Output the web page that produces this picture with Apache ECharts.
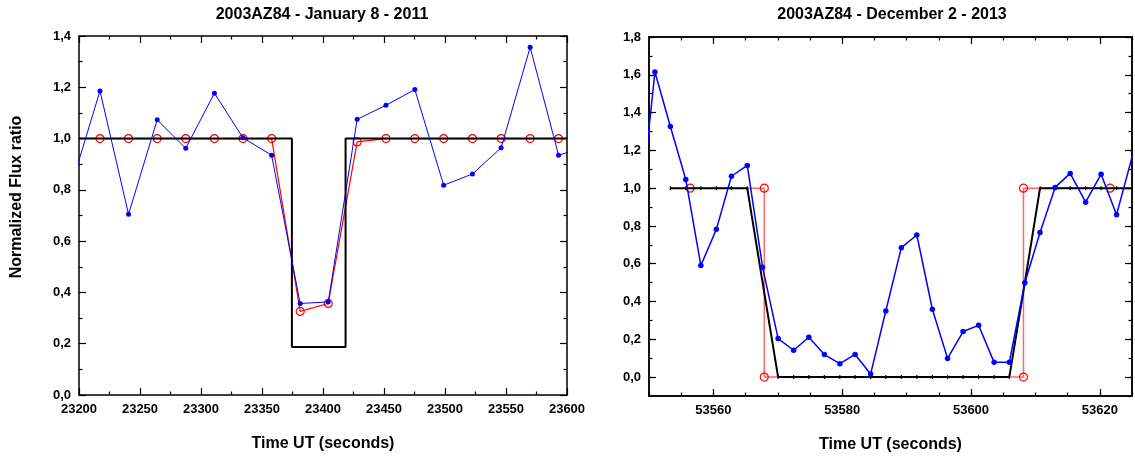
<!DOCTYPE html>
<html>
<head>
<meta charset="utf-8">
<script src="https://cdn.jsdelivr.net/npm/echarts@6/dist/echarts.min.js"></script>
<style>
html,body{margin:0;padding:0;background:#fff;}
#chart{width:1135px;height:461px;}
</style>
</head>
<body>
<div id="chart"></div>
<script>
// ---------- Left panel: 2003AZ84 - January 8 - 2011 ----------
const leftTitle = '2003AZ84 - January 8 - 2011';
const leftObsTimes = [23193.7, 23217.2, 23240.6, 23264.1, 23287.5, 23311.0, 23334.4, 23357.9, 23381.3, 23404.3, 23428.0, 23451.6, 23475.3, 23498.9, 23522.5, 23546.0, 23569.8, 23593.1, 23616.6];
const leftObsFlux  = [0.817, 1.186, 0.705, 1.073, 0.962, 1.177, 1.003, 0.935, 0.357, 0.363, 1.075, 1.130, 1.191, 0.818, 0.862, 0.964, 1.356, 0.935, 0.969];
const leftFitTimes = [23217.2, 23240.6, 23264.1, 23287.5, 23311.0, 23334.4, 23357.9, 23381.3, 23404.3, 23428.0, 23451.6, 23475.3, 23498.9, 23522.5, 23546.0, 23569.8, 23593.1];
const leftFitFlux  = [1, 1, 1, 1, 1, 1, 1, 0.326, 0.357, 0.987, 1, 1, 1, 1, 1, 1, 1];
const leftModelTimes = [23200, 23374.5, 23374.5, 23418.5, 23418.5, 23600];
const leftModelFlux  = [1, 1, 0.187, 0.187, 1, 1];
const leftXTicks = [23200, 23600, 50];
const leftYTicks = [0, 1.4, 0.2];

// ---------- Right panel: 2003AZ84 - December 2 - 2013 ----------
const rightTitle = '2003AZ84 - December 2 - 2013';
const rightObsTimes = [53548.5, 53550.92, 53553.32, 53555.71, 53558.05, 53560.46, 53562.8, 53565.26, 53567.64, 53570.05, 53572.46, 53574.82, 53577.23, 53579.64, 53582.0, 53584.41, 53586.77, 53589.18, 53591.59, 53594.0, 53596.36, 53598.77, 53601.18, 53603.59, 53605.95, 53608.36, 53610.72, 53613.06, 53615.4, 53617.8, 53620.2, 53622.6, 53625.1];
const rightObsFlux  = [0.83, 1.615, 1.326, 1.046, 0.591, 0.782, 1.063, 1.12, 0.581, 0.204, 0.142, 0.211, 0.119, 0.071, 0.120, 0.016, 0.350, 0.685, 0.752, 0.359, 0.099, 0.241, 0.274, 0.078, 0.078, 0.499, 0.765, 1.004, 1.078, 0.926, 1.074, 0.859, 1.176];
const rightModelTimes = [53553.32, 53555.71, 53558.05, 53560.46, 53562.8, 53565.26, 53567.64, 53570.05, 53572.46, 53574.82, 53577.23, 53579.64, 53582.0, 53584.41, 53586.77, 53589.18, 53591.59, 53594.0, 53596.36, 53598.77, 53601.18, 53603.59, 53605.95, 53608.36, 53610.72, 53613.06, 53615.4, 53617.8, 53620.2, 53622.6, 53625.1];
const rightModelFlux  = [1, 1, 1, 1, 1, 1, 0.5, 0, 0, 0, 0, 0, 0, 0, 0, 0, 0, 0, 0, 0, 0, 0, 0, 0.5, 1, 1, 1, 1, 1, 1, 1];
const rightFitTimes = [53556.4, 53567.9, 53567.9, 53608.15, 53608.15, 53621.6];
const rightFitFlux  = [1, 1, 0, 0, 1, 1];
const rightXRange = [53550, 53625, 5];
const rightXLabels = [53560, 53580, 53600, 53620];
const rightYRange = [-0.1, 1.8, 0.1];
const rightYLabels = [0, 0.2, 0.4, 0.6, 0.8, 1.0, 1.2, 1.4, 1.6, 1.8];

const xTitle = 'Time UT (seconds)';
const yTitle = 'Normalized Flux ratio';

function zip(a, b) { return a.map((v, i) => [v, b[i]]); }

const FONT = 'Liberation Sans, Arial, Helvetica, sans-serif';
const LABEL = { fontFamily: FONT, fontWeight: 'bold', fontSize: 13, color: '#000' };
const NAME = { fontFamily: FONT, fontWeight: 'bold', fontSize: 16, color: '#000' };
const LINE = { show: true, onZero: false, lineStyle: { color: '#000', width: 1.5 } };
const comma = v => (Math.abs(v) < 1e-9 ? 0 : v).toFixed(1).replace('.', ',');
const plain = v => String(Math.round(v));
const rightXFmt = v => (rightXLabels.indexOf(Math.round(v)) >= 0 ? String(Math.round(v)) : '');

function ax(grid, pos, min, max, opts) {
  return Object.assign({
    type: 'value', gridIndex: grid, position: pos, min: min, max: max,
    axisLine: LINE, splitLine: { show: false },
    axisTick: { show: true, inside: true, length: 7, lineStyle: { color: '#000', width: 1.2 } },
    axisLabel: { show: false }
  }, opts);
}
const minorLeft = { show: true, splitNumber: 2, length: 3.5, lineStyle: { color: '#000', width: 1.2 } };
const shortTick = { show: true, inside: true, length: 3.5, lineStyle: { color: '#000', width: 1.2 } };

const xAxes = [
  // left panel
  ax(0, 'bottom', leftXTicks[0], leftXTicks[1], {
    interval: leftXTicks[2], minorTick: minorLeft,
    axisLabel: Object.assign({ show: true, margin: 8, formatter: plain }, LABEL),
    name: xTitle, nameLocation: 'middle', nameGap: 41, nameTextStyle: NAME
  }),
  ax(0, 'top', leftXTicks[0], leftXTicks[1], { interval: leftXTicks[2], minorTick: minorLeft }),
  // right panel (minor + major overlays)
  ax(1, 'bottom', rightXRange[0], rightXRange[1], {
    interval: rightXRange[2], axisTick: shortTick,
    axisLabel: Object.assign({ show: true, margin: 8, interval: 0, formatter: rightXFmt }, LABEL),
    name: xTitle, nameLocation: 'middle', nameGap: 41, nameTextStyle: NAME
  }),
  ax(1, 'bottom', rightXRange[0], rightXRange[1], {
    axisTick: { show: true, inside: true, length: 7, customValues: rightXLabels, lineStyle: { color: '#000', width: 1.2 } }
  }),
  ax(1, 'top', rightXRange[0], rightXRange[1], { interval: rightXRange[2], axisTick: shortTick }),
  ax(1, 'top', rightXRange[0], rightXRange[1], {
    axisTick: { show: true, inside: true, length: 7, customValues: rightXLabels, lineStyle: { color: '#000', width: 1.2 } }
  })
];

const yAxes = [
  ax(0, 'left', leftYTicks[0], leftYTicks[1], {
    interval: leftYTicks[2], minorTick: minorLeft,
    axisLabel: Object.assign({ show: true, margin: 8, formatter: comma }, LABEL)
  }),
  ax(0, 'right', leftYTicks[0], leftYTicks[1], { interval: leftYTicks[2], minorTick: minorLeft }),
  ax(1, 'left', rightYRange[0], rightYRange[1], { interval: rightYRange[2], axisTick: shortTick }),
  ax(1, 'left', rightYRange[0], rightYRange[1], {
    axisTick: { show: true, inside: true, length: 7, customValues: rightYLabels, lineStyle: { color: '#000', width: 1.2 } },
    axisLabel: Object.assign({ show: true, margin: 8, customValues: rightYLabels, formatter: comma }, LABEL)
  }),
  ax(1, 'right', rightYRange[0], rightYRange[1], { interval: rightYRange[2], axisTick: shortTick }),
  ax(1, 'right', rightYRange[0], rightYRange[1], {
    axisTick: { show: true, inside: true, length: 7, customValues: rightYLabels, lineStyle: { color: '#000', width: 1.2 } }
  })
];

const redSymbol = { color: 'rgba(0,0,0,0)', borderColor: '#ff0000', borderWidth: 1.2 };
const TITLE_STYLE = { fontFamily: FONT, fontWeight: 'bold', fontSize: 16, color: '#000' };

const option = {
  animation: false,
  backgroundColor: '#fff',
  title: [
    { text: leftTitle, left: 322, top: 7, textAlign: 'center', padding: 0, textStyle: TITLE_STYLE },
    { text: rightTitle, left: 892, top: 7, textAlign: 'center', padding: 0, textStyle: TITLE_STYLE }
  ],
  graphic: [
    { type: 'text', x: 17, y: 197, rotation: Math.PI / 2,
      style: { text: yTitle, fill: '#000', font: 'bold 16px ' + FONT, align: 'center', verticalAlign: 'middle' } }
  ],
  grid: [
    { left: 79, top: 36, width: 488, height: 359 },
    { left: 649, top: 37, right: 0, height: 359 }
  ],
  xAxis: xAxes,
  yAxis: yAxes,
  series: [
    // left panel
    { type: 'line', xAxisIndex: 0, yAxisIndex: 0, z: 2, data: zip(leftFitTimes, leftFitFlux),
      symbol: 'circle', symbolSize: 8, itemStyle: redSymbol,
      lineStyle: { color: '#ff0000', width: 1.2 } },
    { type: 'line', xAxisIndex: 0, yAxisIndex: 0, z: 3, data: zip(leftModelTimes, leftModelFlux),
      symbol: 'none', lineStyle: { color: '#000', width: 2 } },
    { type: 'line', xAxisIndex: 0, yAxisIndex: 0, z: 4, data: zip(leftObsTimes, leftObsFlux),
      symbol: 'circle', symbolSize: 5, itemStyle: { color: '#0000ff' },
      lineStyle: { color: '#0000ff', width: 1 } },
    // right panel
    { type: 'line', xAxisIndex: 2, yAxisIndex: 2, z: 2, data: zip(rightFitTimes, rightFitFlux),
      symbol: 'circle', symbolSize: 8, itemStyle: redSymbol,
      lineStyle: { color: '#ff6868', width: 1.5 } },
    { type: 'line', xAxisIndex: 2, yAxisIndex: 2, z: 3, data: zip(rightModelTimes, rightModelFlux),
      symbol: 'rect', symbolSize: [1.2, 4], itemStyle: { color: '#000' },
      lineStyle: { color: '#000', width: 2 } },
    { type: 'line', xAxisIndex: 2, yAxisIndex: 2, z: 4, data: zip(rightObsTimes, rightObsFlux),
      symbol: 'circle', symbolSize: 5.5, itemStyle: { color: '#0000ff' },
      lineStyle: { color: '#0000ff', width: 1.5 } }
  ]
};

const chart = echarts.init(document.getElementById('chart'), null, { renderer: 'canvas' });
chart.setOption(option);
</script>
</body>
</html>
